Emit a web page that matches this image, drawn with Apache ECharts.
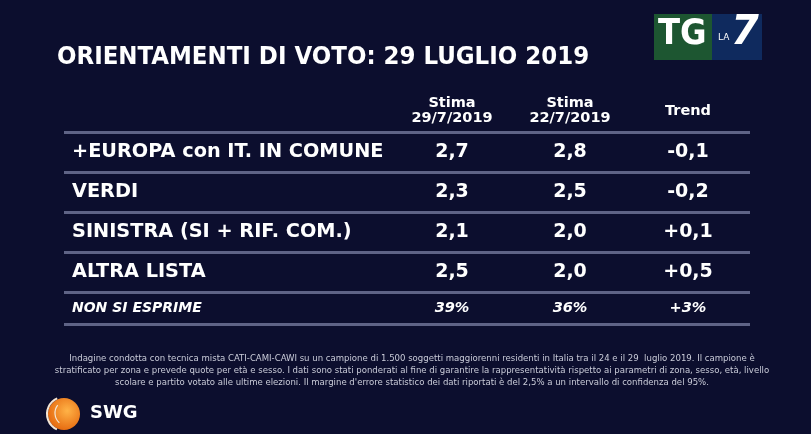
<!DOCTYPE html>
<html>
<head>
<meta charset="utf-8">
<script src="https://cdn.jsdelivr.net/npm/echarts@6/dist/echarts.min.js"></script>
<style>
  html, body { margin: 0; padding: 0; background: #fff; }
  #chart { width: 811px; height: 434px; }
</style>
</head>
<body>
<div id="chart"></div>
<script>
// dati del sondaggio SWG
var liste = ['+EUROPA con IT. IN COMUNE', 'VERDI', 'SINISTRA (SI + RIF. COM.)', 'ALTRA LISTA'];
var colonne = ['Stima\n29/7/2019', 'Stima\n22/7/2019', 'Trend'];
var stima29 = [2.7, 2.3, 2.1, 2.5];
var stima22 = [2.8, 2.5, 2.0, 2.0];
var trend = [-0.1, -0.2, 0.1, 0.5];
var nonEsprime = ['NON SI ESPRIME'];
var nonEsprimeVal = [39, 36, 3];

var nota = 'Indagine condotta con tecnica mista CATI-CAMI-CAWI su un campione di 1.500 soggetti maggiorenni residenti in Italia tra il 24 e il 29  luglio 2019. Il campione è\n' +
  'stratificato per zona e prevede quote per età e sesso. I dati sono stati ponderati al fine di garantire la rappresentatività rispetto ai parametri di zona, sesso, età, livello\n' +
  'scolare e partito votato alle ultime elezioni. Il margine d\'errore statistico dei dati riportati è del 2,5% a un intervallo di confidenza del 95%.';

function virgola(v) {
  return v.toFixed(1).replace('.', ',');
}
function conSegno(v) {
  return (v > 0 ? '+' : '') + virgola(v);
}

var lineColor = '#5f6386';
var valueFont = 'DejaVu Sans';

var chart = echarts.init(document.getElementById('chart'));

function cella(col, arr, fmt) {
  return arr.map(function (v, i) {
    return { value: [col, i], label: { formatter: fmt(v) } };
  });
}

var scatterBase = {
  type: 'scatter',
  symbolSize: 1,
  itemStyle: { color: 'rgba(0,0,0,0)', opacity: 1 },
  silent: true,
  label: {
    show: true,
    position: 'inside',
    color: '#ffffff',
    fontFamily: valueFont,
    fontWeight: 'bold',
    fontSize: 19
  }
};

chart.setOption({
  backgroundColor: '#0c0e2e',
  animation: false,
  title: [
    {
      text: 'ORIENTAMENTI DI VOTO: 29 LUGLIO 2019',
      left: 52,
      top: 39,
      textStyle: {
        color: '#ffffff',
        fontFamily: 'DejaVu Sans Condensed',
        fontWeight: 'bold',
        fontSize: 25.5
      }
    },
    {
      text: nota,
      left: 407,
      top: 348,
      textAlign: 'center',
      textStyle: {
        color: '#c9cbd8',
        fontFamily: 'DejaVu Sans Condensed',
        fontWeight: 'normal',
        fontSize: 9.5,
        lineHeight: 12
      }
    }
  ],
  grid: [
    { left: 64, width: 686, top: 132, height: 160 },
    { left: 393, width: 354, top: 132, height: 160 },
    { left: 64, width: 686, top: 292, height: 32 },
    { left: 393, width: 354, top: 292, height: 32 }
  ],
  xAxis: [
    { gridIndex: 0, type: 'value', show: false },
    {
      gridIndex: 1, type: 'category', data: colonne, position: 'top',
      axisLine: { show: false }, axisTick: { show: false },
      axisLabel: {
        color: '#ffffff', fontFamily: valueFont, fontWeight: 'bold',
        fontSize: 14.5, lineHeight: 15, margin: 21, verticalAlign: 'middle'
      }
    },
    { gridIndex: 2, type: 'value', show: false },
    { gridIndex: 3, type: 'category', data: colonne, show: false }
  ],
  yAxis: [
    {
      gridIndex: 0, type: 'category', data: liste, inverse: true,
      axisLine: { show: false }, axisTick: { show: false },
      splitLine: { show: true, lineStyle: { color: lineColor, width: 3 } },
      axisLabel: {
        inside: true, margin: 8, color: '#ffffff',
        fontFamily: valueFont, fontWeight: 'bold', fontSize: 19.3
      }
    },
    { gridIndex: 1, type: 'category', data: liste, inverse: true, show: false },
    {
      gridIndex: 2, type: 'category', data: nonEsprime, inverse: true,
      axisLine: { show: false }, axisTick: { show: false },
      splitLine: { show: true, lineStyle: { color: lineColor, width: 3 } },
      axisLabel: {
        inside: true, margin: 8, color: '#ffffff',
        fontFamily: valueFont, fontWeight: 'bold', fontStyle: 'italic', fontSize: 14
      }
    },
    { gridIndex: 3, type: 'category', data: nonEsprime, inverse: true, show: false }
  ],
  series: [
    Object.assign({}, scatterBase, {
      xAxisIndex: 1, yAxisIndex: 1,
      data: cella(0, stima29, virgola)
        .concat(cella(1, stima22, virgola))
        .concat(cella(2, trend, conSegno))
    }),
    Object.assign({}, scatterBase, {
      xAxisIndex: 3, yAxisIndex: 3,
      label: Object.assign({}, scatterBase.label, { fontSize: 14.5, fontStyle: 'italic' }),
      data: [
        { value: [0, 0], label: { formatter: nonEsprimeVal[0] + '%' } },
        { value: [1, 0], label: { formatter: nonEsprimeVal[1] + '%' } },
        { value: [2, 0], label: { formatter: '+' + nonEsprimeVal[2] + '%' } }
      ]
    })
  ],
  graphic: [
    // logo TG LA7
    { type: 'rect', left: 654, top: 14, shape: { width: 58, height: 46 }, style: { fill: '#1d5631' } },
    { type: 'rect', left: 712, top: 14, shape: { width: 50, height: 46 }, style: { fill: '#0f2a5e' } },
    { type: 'text', left: 658, top: 17, style: { text: 'TG', fill: '#ffffff', font: 'bold 36px "DejaVu Sans Condensed"' } },
    { type: 'text', left: 718, top: 33, style: { text: 'LA', fill: '#ffffff', font: '9px "DejaVu Sans"' } },
    { type: 'text', left: 731, top: 14, style: { text: '7', fill: '#ffffff', font: 'italic bold 40px "DejaVu Sans"' } },
    // logo SWG
    {
      type: 'circle', shape: { cx: 64, cy: 414, r: 16 },
      style: {
        fill: new echarts.graphic.RadialGradient(0.6, 0.4, 0.7, [
          { offset: 0, color: '#ffb347' },
          { offset: 1, color: '#e3620a' }
        ])
      }
    },
    { type: 'arc', shape: { cx: 64, cy: 414, r: 17, startAngle: 2.0, endAngle: 4.3 }, style: { stroke: '#f4e6d6', lineWidth: 2, fill: null } },
    { type: 'arc', shape: { cx: 68, cy: 413, r: 13, startAngle: 2.3, endAngle: 3.8 }, style: { stroke: '#f4e6d6', lineWidth: 1.2, fill: null } },
    { type: 'text', left: 90, top: 404, style: { text: 'SWG', fill: '#ffffff', font: 'bold 18px "DejaVu Sans"' } }
  ]
});
</script>
</body>
</html>
